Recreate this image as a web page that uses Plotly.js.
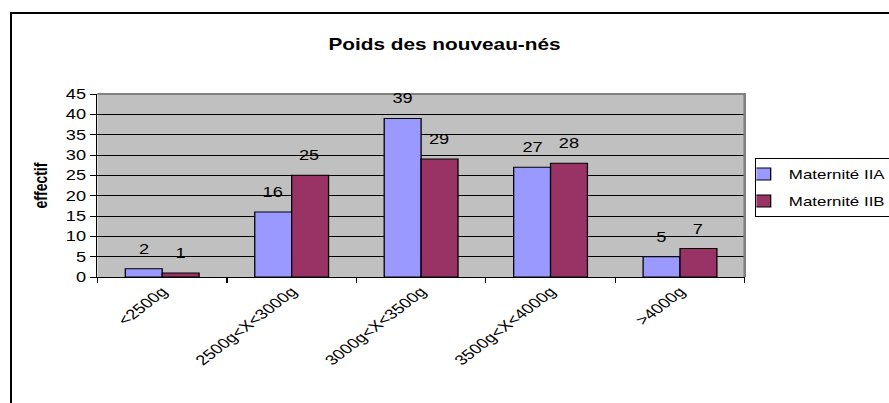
<!DOCTYPE html>
<html>
<head>
<meta charset="utf-8">
<script src="https://cdn.plot.ly/plotly-3.0.1.min.js"></script>
<style>
  html, body { margin: 0; padding: 0; background: #fff; overflow: hidden; width: 889px; height: 403px; }
  #frame { position: absolute; left: 10px; top: 12px; right: 0; bottom: 0;
           border-left: 2px solid #000; border-top: 2px solid #000; pointer-events: none; z-index: 2; }
  #outer { position: absolute; left: 0; top: 0; width: 889px; height: 403px; overflow: hidden; }
  #wrap { position: absolute; left: 0; top: 0; width: 684px; height: 403px;
          transform: scaleX(1.2997); transform-origin: 0 0; }
</style>
</head>
<body>
<div id="outer"><div id="wrap"><div id="chart"></div></div></div>
<div id="frame"></div>
<script>
const categories = ["<2500g", "2500g<X<3000g", "3000g<X<3500g", "3500g<X<4000g", ">4000g"];
const seriesNames = ["Maternité IIA", "Maternité IIB"];
const valuesIIA = [2, 16, 39, 27, 5];
const valuesIIB = [1, 25, 29, 28, 7];
const yTicks = [0, 5, 10, 15, 20, 25, 30, 35, 40, 45];

const font = "Liberation Sans, Arial, sans-serif";

const traces = [
  { type: "bar", name: seriesNames[0], x: categories, y: valuesIIA, legendgroup: "a",
    marker: { color: "#9999FF", line: { color: "#000", width: 1 } } },
  { type: "bar", name: seriesNames[1], x: categories, y: valuesIIB, legendgroup: "b",
    marker: { color: "#993366", line: { color: "#000", width: 1 } } }
];

const annotations = [];
[valuesIIA, valuesIIB].forEach((vals, si) => {
  vals.forEach((v, i) => {
    annotations.push({
      x: categories[i], y: v, xref: "x", yref: "y", text: String(v),
      showarrow: false, yanchor: "bottom", yshift: 10, xshift: si === 0 ? -14 : 14,
      font: { family: font, size: 14, color: "#000" }
    });
  });
});

const layout = {
  width: 684, height: 403,
  margin: { l: 75, r: 111, t: 94, b: 126, autoexpand: false },
  paper_bgcolor: "rgba(0,0,0,0)",
  plot_bgcolor: "#C0C0C0",
  font: { family: font, size: 14, color: "#000" },
  title: { text: "<b>Poids des nouveau-nés</b>", x: 0.5, xref: "container", xanchor: "center",
           y: 0.891, yref: "container", yanchor: "middle",
           font: { family: font, size: 16, color: "#000" } },
  barmode: "group", bargap: 0.43, bargroupgap: 0,
  xaxis: { type: "category", tickangle: -45, tickson: "boundaries", ticks: "outside", ticklen: 5,
           tickcolor: "#000", showline: true, linecolor: "#000", linewidth: 1,
           showgrid: false, zeroline: false, tickfont: { family: font, size: 14 } },
  yaxis: { range: [0, 45], tickvals: yTicks, ticks: "outside", ticklen: 5, tickcolor: "#000",
           showline: true, linecolor: "#000", linewidth: 1, showgrid: true, gridcolor: "#000",
           gridwidth: 1, zeroline: false, tickfont: { family: font, size: 14 },
           title: { text: "<b>effectif</b>", standoff: 10, font: { family: font, size: 14 } } },
  legend: { x: 1.016, xanchor: "left", y: 0.65, yanchor: "top", bgcolor: "#fff",
            bordercolor: "#000", borderwidth: 1, tracegroupgap: 7, indentation: -15,
            font: { family: font, size: 13 } },
  shapes: [
    { type: "path", xref: "paper", yref: "paper", path: "M0,1 L1,1 L1,0",
      line: { color: "#808080", width: 2 }, layer: "above" }
  ],
  annotations: annotations
};

Plotly.newPlot("chart", traces, layout, { staticPlot: true, displayModeBar: false });
</script>
</body>
</html>
